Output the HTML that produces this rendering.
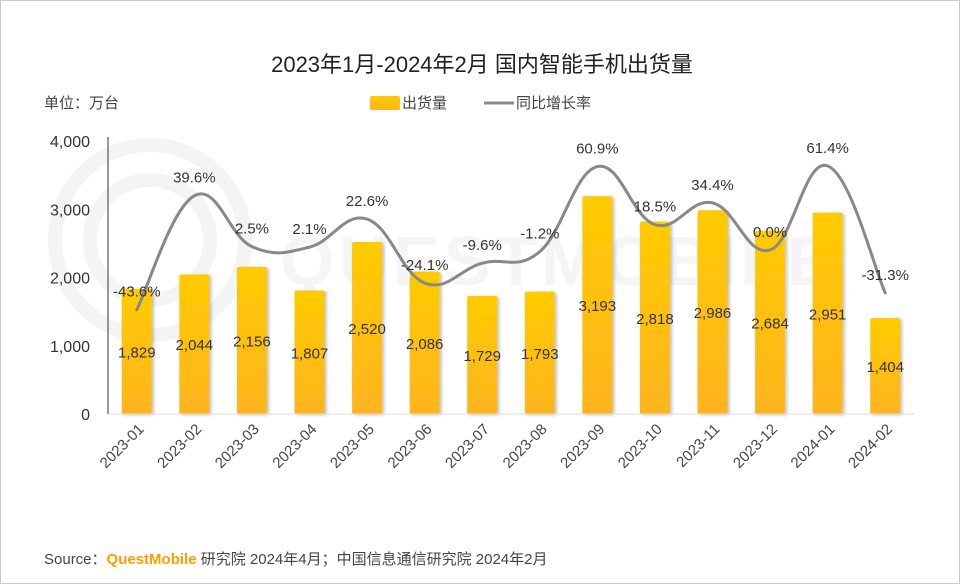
<!DOCTYPE html>
<html><head><meta charset="utf-8"><style>
html,body{margin:0;padding:0;background:#fff}
body{width:960px;height:584px;overflow:hidden;font-family:"Liberation Sans","Noto Sans CJK SC",sans-serif}
#frame{position:absolute;left:0;top:0;width:958px;height:582px;border:1px solid #ccc}
</style></head><body>
<div id="frame"></div>
<svg id="chart" width="960" height="584" style="position:absolute;left:0;top:0">
<defs>
<linearGradient id="bg" x1="0" y1="0" x2="0" y2="1"><stop offset="0" stop-color="#FFCB00"/><stop offset="1" stop-color="#FFB41E"/></linearGradient>
<filter id="sh" x="-20%" y="-10%" width="150%" height="120%"><feDropShadow dx="2" dy="1" stdDeviation="1.5" flood-color="#000" flood-opacity="0.25"/></filter>
</defs>
<g fill="none" stroke="#f4f4f4" stroke-width="14">
<circle cx="150" cy="240" r="95"/><circle cx="150" cy="240" r="60"/>
<text x="280" y="285" font-size="70" fill="#f5f5f5" stroke="none" font-weight="bold" letter-spacing="4">QUESTMOBILE</text>
</g>
<text x="482" y="72" text-anchor="middle" font-size="22" fill="#222">2023年1月-2024年2月 国内智能手机出货量</text>
<text x="44" y="108" font-size="15" fill="#444">单位：万台</text>
<g>
<rect x="370" y="96" width="30" height="14" rx="2" fill="url(#bg)"/>
<text x="402" y="108" font-size="15" fill="#444">出货量</text>
<line x1="484" y1="103" x2="514" y2="103" stroke="#888" stroke-width="3"/>
<text x="516" y="108" font-size="15" fill="#444">同比增长率</text>
</g>
<g id="plot"></g>
<text x="44" y="564" font-size="15" fill="#444">Source：<tspan fill="#FF9D00" font-weight="bold">QuestMobile</tspan> 研究院 2024年4月；中国信息通信研究院 2024年2月</text>
</svg>
<script>
const categories=["2023-01","2023-02","2023-03","2023-04","2023-05","2023-06","2023-07","2023-08","2023-09","2023-10","2023-11","2023-12","2024-01","2024-02"];
const shipments=[1829,2044,2156,1807,2520,2086,1729,1793,3193,2818,2986,2684,2951,1404];
const growth=[-43.6,39.6,2.5,2.1,22.6,-24.1,-9.6,-1.2,60.9,18.5,34.4,0.0,61.4,-31.3];
const yTicks=[0,1000,2000,3000,4000];
const yTickLabels=["0","1,000","2,000","3,000","4,000"];
const NS="http://www.w3.org/2000/svg";
const plot=document.getElementById('plot');
const x0=108,x1=914,y0=414,y1=141;
const band=(x1-x0)/categories.length;
const xC=i=>x0+band*(i+0.5);
const yS=v=>y0-(v/4000)*(y0-y1);
const yG=g=>250-g*1.37;
function mk(t,a,p){const e=document.createElementNS(NS,t);for(const k in a)e.setAttribute(k,a[k]);(p||plot).appendChild(e);return e;}
yTicks.forEach((v,i)=>{
 const t=mk('text',{x:90,y:yS(v)+6,'text-anchor':'end','font-size':16,fill:'#333'});
 
 
 t.textContent=yTickLabels[i];
});
const ax=mk('line',{x1:x0,y1:y1-4,x2:x0,y2:y0,stroke:'#333','stroke-width':1});


shipments.forEach((v,i)=>{
 const r=mk('rect',{x:xC(i)-15,y:yS(v),width:30,height:y0-yS(v),rx:2,fill:'url(#bg)',filter:'url(#sh)'});
 
 
});
const xa=mk('line',{x1:x0,y1:y0,x2:x1,y2:y0,stroke:'#ddd'});


categories.forEach((c,i)=>{
 const t=mk('text',{x:xC(i)+8,y:y0+16,'text-anchor':'end','font-size':15,fill:'#444',transform:`rotate(-45 ${xC(i)+8} ${y0+16})`});
 
 
 t.textContent=c;
});
const pts=growth.map((g,i)=>[xC(i),yG(g)]);
let d=`M${pts[0][0]},${pts[0][1]}`;
for(let i=0;i<pts.length-1;i++){
 const p0=pts[Math.max(0,i-1)],p1=pts[i],p2=pts[i+1],p3=pts[Math.min(pts.length-1,i+2)];
 const k=1/5;
 d+=` C${p1[0]+(p2[0]-p0[0])*k},${p1[1]+(p2[1]-p0[1])*k} ${p2[0]-(p3[0]-p1[0])*k},${p2[1]-(p3[1]-p1[1])*k} ${p2[0]},${p2[1]}`;
}
const ln=mk('path',{d:d,fill:'none',stroke:'#888','stroke-width':3,'stroke-linecap':'round'});


shipments.forEach((v,i)=>{
 const t=mk('text',{x:xC(i),y:(yS(v)+y0)/2+6,'text-anchor':'middle','font-size':15,fill:'#333'});
 
 
 t.textContent=v.toLocaleString('en-US');
});
growth.forEach((g,i)=>{
 const t=mk('text',{x:xC(i),y:yG(g)-13,'text-anchor':'middle','font-size':15,fill:'#333'});
 
 
 t.textContent=g.toFixed(1)+'%';
});
</script>
</body></html>
